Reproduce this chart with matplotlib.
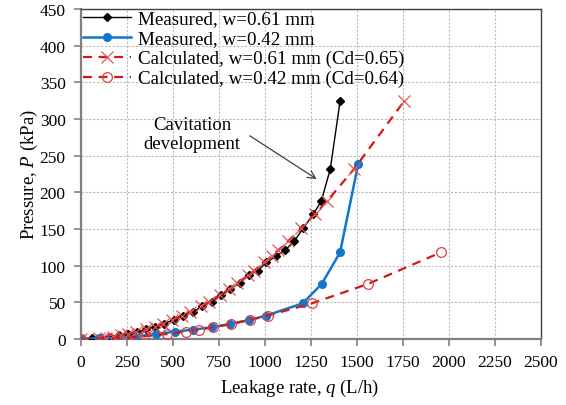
import numpy as np
import matplotlib
matplotlib.use("Agg")
import matplotlib.pyplot as plt

plt.rcParams["font.family"] = ["Liberation Serif", "DejaVu Serif"]
plt.rcParams["mathtext.fontset"] = "custom"
plt.rcParams["mathtext.rm"] = "Liberation Serif"
plt.rcParams["mathtext.it"] = "Liberation Serif:italic"

# measured, w = 0.61 mm
q_m61 = [0, 60, 110, 160, 205, 255, 305, 355, 400, 450, 505, 555, 610, 660,
         710, 762, 810, 862, 912, 960, 1008, 1060, 1108, 1158, 1208, 1262,
         1306, 1355, 1408]
p_m61 = [0, 1.0, 2.0, 3.2, 5.0, 7.0, 9.5, 13, 17, 21, 26, 31.5, 37, 45,
         51, 60, 68, 76, 87, 93, 104.5, 113, 121, 133, 151, 170,
         188, 232, 324]

# measured, w = 0.42 mm
q_m42 = [0, 100, 210, 302, 405, 510, 610, 710, 812, 915, 1008, 1205, 1308, 1408, 1507]
p_m42 = [0, 0.7, 1.8, 3.6, 6.8, 10, 12.7, 16, 20.5, 26, 32, 48.6, 75, 118, 239]

# calculated, w = 0.61 mm (Cd = 0.65)
q_c61 = [0, 98, 138, 175, 218, 258, 300, 352, 402, 447, 497, 547, 593, 654,
         696, 755, 804, 850, 909, 940, 997, 1036, 1072, 1124, 1198, 1271,
         1337, 1485, 1755]
p_c61 = p_m61

# calculated, w = 0.42 mm (Cd = 0.64)
q_c42 = [0, 151, 241, 342, 469, 569, 641, 720, 815, 918, 1018, 1255, 1559, 1955]
p_c42 = [0, 0.7, 1.8, 3.6, 6.8, 10, 12.7, 16, 20.5, 26, 32, 48.6, 75, 118]

labels = ["Measured, w=0.61 mm", "Measured, w=0.42 mm",
          "Calculated, w=0.61 mm (Cd=0.65)", "Calculated, w=0.42 mm (Cd=0.64)"]

fig = plt.figure(figsize=(5.66, 4.06), dpi=100)
ax = fig.add_axes([0.1431, 0.1626, 0.8127, 0.8128])

red = "#D01818"
ax.plot(q_m61, p_m61, color="black", lw=1.0, marker="D", ms=4.2,
        mfc="black", mec="black", label=labels[0], zorder=3)
ax.plot(q_m42, p_m42, color="#1177CC", lw=1.8, marker="o", ms=5.5,
        mfc="#1177CC", mec="#1177CC", label=labels[1], zorder=3)
ax.plot(q_c61, p_c61, color=red, lw=1.6, ls=(0, (4, 3)), marker="x", ms=8,
        mew=0.9, mec="#E85050", label=labels[2], zorder=4)
ax.plot(q_c42, p_c42, color=red, lw=1.6, ls=(0, (4, 3)), marker="o", ms=7,
        mew=0.9, mfc="none", mec="#E04040", label=labels[3], zorder=4)

ax.set_xlim(0, 2500)
ax.set_ylim(0, 450)
ax.set_xticks(np.arange(0, 2501, 250))
ax.set_yticks(np.arange(0, 451, 50))
ax.grid(True, color="#BBBBBB", ls=(0, (2, 1.5)), lw=0.8)
ax.set_axisbelow(True)

for s in ["left", "bottom"]:
    ax.spines[s].set_color("#808080")
    ax.spines[s].set_linewidth(1.6)
for s in ["top", "right"]:
    ax.spines[s].set_color("#404040")
    ax.spines[s].set_linewidth(1.0)

ax.tick_params(axis="both", direction="out", length=5, width=1.2,
               color="#808080", labelsize=12.5, pad=6)

ax.set_xlabel("Leakage rate, $q$ (L/h)", fontsize=13.5)
ax.set_ylabel("Pressure, $P$ (kPa)", fontsize=13.5)
ax.xaxis.set_label_coords(0.475, -0.115)
ax.yaxis.set_label_coords(-0.089, 0.5)

ax.text(603, 280, "Cavitation\ndevelopment", fontsize=13.5,
        ha="center", va="center", linespacing=1.15)
ax.annotate("", xy=(1281, 218), xytext=(918, 277),
            arrowprops=dict(arrowstyle="->", color="#404040", lw=0.9,
                            shrinkA=0, shrinkB=0, mutation_scale=14))

leg = ax.legend(loc="upper left", bbox_to_anchor=(0.005, 0.997), frameon=False,
                fontsize=13.7, handlelength=2.5, handletextpad=0.35,
                labelspacing=0.14, borderaxespad=0, borderpad=0)

fig.savefig("out.png", dpi=100)
